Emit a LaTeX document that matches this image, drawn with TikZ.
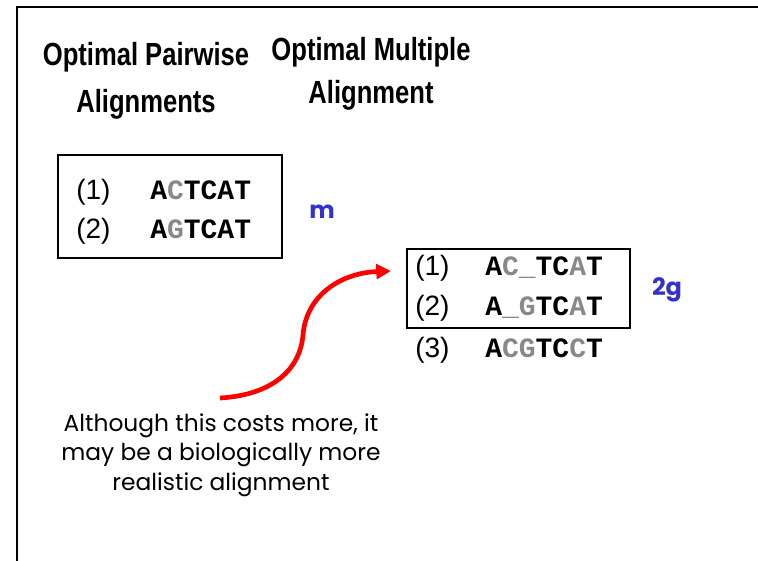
\documentclass[tikz,border=0pt]{standalone}
\usepackage{fontspec}
\usepackage{tikz}
\usetikzlibrary{arrows.meta}
\setmainfont{Liberation Sans}
\newfontfamily\headfont[FakeStretch=0.8]{Liberation Sans}
\newfontfamily\seqfont{Liberation Mono}
\newfontfamily\notefont{Poppins}
\definecolor{seqgray}{RGB}{136,136,136}
\definecolor{costblue}{RGB}{51,51,204}
\newcommand{\grey}[1]{\textcolor{seqgray}{#1}}

\begin{document}
\begin{tikzpicture}[
  x=0.75pt, y=-0.75pt,
  heading/.style={anchor=base, align=center, inner sep=0pt},
  seqbox/.style={draw=black, line width=1.5pt, inner sep=0pt},
  number/.style={anchor=base west, inner sep=0pt, font=\fontsize{21}{24}\selectfont},
  sequence/.style={anchor=base west, inner sep=0pt, font=\seqfont\bfseries\fontsize{21}{24}\selectfont},
  cost/.style={anchor=base, inner sep=0pt, text=costblue, font=\notefont\bfseries\fontsize{18}{20}\selectfont},
  note/.style={anchor=base, align=center, inner sep=0pt, font=\notefont\fontsize{17.5}{22}\selectfont},
  curvearrow/.style={red, line width=3.5pt, -{Triangle[length=11pt, width=11pt]}}
]
  \useasboundingbox (0,0) rectangle (758,561);

  % Frame
  \draw[line width=1.8pt] (17,561) -- (17,7) -- (758,7);

  % Headings (base = last line)
  \node[heading, font=\headfont\bfseries\fontsize{24}{35}\selectfont] (pwtitle) at (146,112)
    {Optimal Pairwise\\Alignments};
  \node[heading, font=\headfont\bfseries\fontsize{24}{32}\selectfont] (mtitle) at (371,103)
    {Optimal Multiple\\Alignment};

  % Pairwise alignment
  \node[seqbox, minimum width=168pt, minimum height=77.25pt] (pwbox) at (170,206.5) {};
  \node[number] (pwn1) at (76,199) {(1)};
  \node[sequence] (pws1) at (150,199) {A\grey{C}TCAT};
  \node[number] (pwn2) at (76,238) {(2)};
  \node[sequence] (pws2) at (150,238) {A\grey{G}TCAT};
  \node[cost] (pwcost) at (322,218) {m};

  % Multiple alignment
  \node[seqbox, minimum width=167.25pt, minimum height=59.25pt] (mbox) at (518.5,288.5) {};
  \node[number] (mn1) at (415,275) {(1)};
  \node[sequence] (ms1) at (485,275) {A\grey{C\_}TC\grey{A}T};
  \node[number] (mn2) at (415,315) {(2)};
  \node[sequence] (ms2) at (485,315) {A\grey{\_G}TC\grey{A}T};
  \node[number] (mn3) at (415,357) {(3)};
  \node[sequence] (ms3) at (485,357) {A\grey{CG}TC\grey{C}T};
  \node[cost] (mcost) at (667,295) {2g};

  % Note and arrow
  \node[note] (remark) at (221,490)
    {Although this costs more, it\\may be a biologically more\\realistic alignment};
  \coordinate (arrowstart) at (220,398);
  \coordinate (arrowtip) at (391,271);
  \draw[curvearrow] (arrowstart) .. controls (272,395) and (300,370) .. (303,335)
    .. controls (306,296) and (340,273) .. (arrowtip);

\end{tikzpicture}
\end{document}
